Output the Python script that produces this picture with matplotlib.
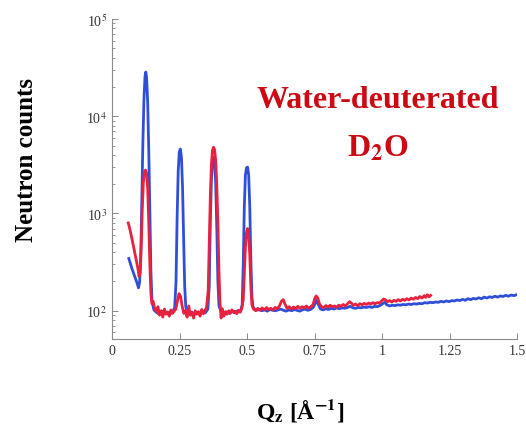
import matplotlib
matplotlib.use("Agg")
from matplotlib import pyplot as plt
from matplotlib.ticker import FixedLocator, LogLocator, NullFormatter, NullLocator

plt.rcParams['font.family'] = ['Liberation Serif', 'DejaVu Serif']
plt.rcParams['mathtext.fontset'] = 'stix'

# water (blue) scan
blue_q = [0.062, 0.068, 0.074, 0.080, 0.086, 0.092, 0.098, 0.102, 0.106, 0.110,
          0.114, 0.118, 0.122, 0.125, 0.128, 0.132, 0.136, 0.140, 0.144, 0.148,
          0.155, 0.165, 0.175, 0.185, 0.195, 0.205, 0.215, 0.225, 0.232,
          0.237, 0.241, 0.245, 0.249, 0.253, 0.257, 0.261, 0.265, 0.269, 0.273,
          0.278, 0.285, 0.295, 0.305, 0.315, 0.325, 0.335, 0.345, 0.355,
          0.360, 0.364, 0.368, 0.372, 0.376, 0.380, 0.384, 0.388, 0.392, 0.396,
          0.405, 0.415, 0.425, 0.435, 0.445, 0.455, 0.465, 0.475, 0.482,
          0.486, 0.490, 0.494, 0.498, 0.502, 0.506, 0.510, 0.514, 0.518, 0.522,
          0.528, 0.535, 0.545, 0.555, 0.565, 0.575, 0.585, 0.595, 0.605, 0.615,
          0.625, 0.635, 0.645, 0.655, 0.665, 0.675, 0.685, 0.695, 0.705, 0.715,
          0.725, 0.735, 0.745, 0.752, 0.758, 0.764, 0.772, 0.782, 0.792, 0.802,
          0.812, 0.822, 0.832, 0.842, 0.852, 0.862, 0.872, 0.882, 0.892, 0.902,
          0.912, 0.922, 0.932, 0.942, 0.952, 0.962, 0.972, 0.982, 0.992, 1.002,
          1.010, 1.018, 1.028, 1.038, 1.048, 1.058, 1.068, 1.078, 1.088, 1.098,
          1.108, 1.118, 1.128, 1.138, 1.148, 1.158, 1.168, 1.178, 1.188, 1.198,
          1.208, 1.218, 1.228, 1.238, 1.248, 1.258, 1.268, 1.278, 1.288, 1.298,
          1.308, 1.318, 1.328, 1.338, 1.348, 1.358, 1.368, 1.378, 1.388, 1.398,
          1.408, 1.418, 1.428, 1.438, 1.448, 1.458, 1.468, 1.478, 1.488, 1.498]
blue_counts = [345, 305, 270, 242, 218, 195, 172, 195, 320, 1200,
               5000, 14500, 25500, 28500, 25000, 14000, 4500, 1000, 250, 125,
               102, 96, 92, 99, 94, 97, 93, 98, 108,
               200, 900, 2700, 4300, 4600, 3800, 1900, 600, 180, 110,
               98, 94, 97, 92, 96, 93, 98, 95, 104,
               180, 800, 2200, 3400, 3800, 3400, 2000, 700, 200, 112,
               96, 92, 97, 94, 99, 95, 100, 97, 115,
               300, 1200, 2500, 2950, 3000, 2500, 1200, 350, 140, 110,
               104, 101, 103, 100, 102, 99, 103, 101, 100, 102,
               104, 101, 99, 102, 100, 103, 101, 99, 102, 104,
               101, 103, 108, 118, 128, 116, 104, 102, 105, 103,
               106, 104, 107, 105, 107, 106, 108, 111, 107, 106,
               108, 107, 109, 108, 110, 108, 111, 110, 113, 118,
               122, 115, 112, 114, 113, 115, 114, 116, 115, 117,
               116, 118, 117, 119, 118, 121, 120, 122, 121, 123,
               122, 125, 123, 126, 124, 127, 126, 129, 127, 131,
               128, 133, 130, 134, 132, 136, 133, 138, 135, 139,
               137, 141, 138, 142, 140, 144, 141, 145, 143, 146]

# deuterated (red) scan
red_q = [0.060, 0.066, 0.072, 0.078, 0.084, 0.090, 0.095, 0.100, 0.104, 0.108,
         0.112, 0.116, 0.120, 0.124, 0.128, 0.132, 0.136, 0.140, 0.144, 0.148,
         0.152, 0.158, 0.164, 0.170, 0.176, 0.182, 0.188, 0.194, 0.200, 0.206,
         0.212, 0.218, 0.224, 0.230, 0.236, 0.242, 0.248, 0.254, 0.260, 0.266,
         0.272, 0.278, 0.284, 0.290, 0.296, 0.302, 0.308, 0.314, 0.320, 0.326,
         0.332, 0.338, 0.344, 0.350, 0.356, 0.360, 0.364, 0.368, 0.372, 0.376,
         0.380, 0.384, 0.388, 0.392, 0.396, 0.400, 0.404, 0.408, 0.414, 0.420,
         0.426, 0.432, 0.438, 0.444, 0.450, 0.456, 0.462, 0.468, 0.474, 0.480,
         0.486, 0.490, 0.494, 0.498, 0.502, 0.506, 0.510, 0.514, 0.518, 0.524,
         0.532, 0.540, 0.548, 0.556, 0.564, 0.572, 0.580, 0.588, 0.596, 0.604,
         0.612, 0.620, 0.628, 0.634, 0.640, 0.648, 0.656, 0.664, 0.672, 0.680,
         0.688, 0.696, 0.704, 0.712, 0.720, 0.728, 0.736, 0.744, 0.750, 0.756,
         0.762, 0.768, 0.776, 0.784, 0.792, 0.800, 0.808, 0.816, 0.824, 0.832,
         0.840, 0.848, 0.856, 0.864, 0.872, 0.880, 0.886, 0.894, 0.902, 0.910,
         0.918, 0.926, 0.934, 0.942, 0.950, 0.958, 0.966, 0.974, 0.982, 0.990,
         0.998, 1.006, 1.012, 1.020, 1.028, 1.036, 1.044, 1.052, 1.060, 1.068,
         1.076, 1.084, 1.092, 1.100, 1.108, 1.116, 1.124, 1.132, 1.140, 1.148,
         1.156, 1.162, 1.168, 1.174, 1.180]
red_counts = [800, 690, 580, 480, 400, 330, 280, 225, 250, 450,
              1100, 2100, 2650, 2800, 2600, 1800, 800, 300, 150, 118,
              125, 105, 98, 110, 90, 100, 86, 104, 92, 97,
              88, 102, 94, 99, 104, 125, 150, 140, 110, 94,
              100, 86, 112, 90, 96, 84, 100, 92, 98, 88,
              103, 93, 100, 108, 160, 500, 1500, 3200, 4500, 4800,
              4500, 3500, 1900, 800, 250, 120, 84, 105, 88, 98,
              92, 100, 94, 102, 96, 99, 93, 101, 97, 104,
              130, 250, 450, 640, 700, 600, 380, 180, 115, 104,
              100, 106, 101, 107, 102, 108, 103, 106, 102, 108,
              105, 112, 126, 130, 118, 106, 110, 104, 109, 105,
              111, 106, 110, 107, 112, 106, 110, 115, 132, 142,
              135, 118, 110, 108, 113, 109, 114, 110, 112, 109,
              114, 111, 116, 112, 118, 124, 120, 114, 117, 113,
              118, 115, 119, 116, 120, 117, 121, 118, 121, 120,
              126, 132, 130, 124, 127, 123, 128, 125, 130, 126,
              131, 128, 133, 129, 135, 131, 137, 133, 140, 135,
              143, 137, 146, 139, 144]

x_ticks = [0, 0.25, 0.5, 0.75, 1, 1.25, 1.5]
x_tick_labels = ['0', '0.25', '0.5', '0.75', '1', '1.25', '1.5']
y_ticks = [1e2, 1e3, 1e4, 1e5]
y_tick_labels = ['10$^{2}$', '10$^{3}$', '10$^{4}$', '10$^{5}$']

fig = plt.figure(figsize=(5.26, 4.35), dpi=100)
ax = fig.add_axes([0.213, 0.218, 0.770, 0.736])

ax.plot(blue_q, blue_counts, color='#2f4fd8', lw=2.0)
ax.plot(red_q, red_counts, color='#e8213f', lw=2.0)

ax.set_yscale('log')
ax.set_xlim(0, 1.5)
ax.set_ylim(51, 1e5)

ax.xaxis.set_major_locator(FixedLocator(x_ticks))
ax.set_xticklabels(x_tick_labels)
ax.xaxis.set_minor_locator(NullLocator())
ax.yaxis.set_major_locator(FixedLocator(y_ticks))
ax.set_yticklabels(y_tick_labels)
ax.yaxis.set_minor_locator(LogLocator(base=10, subs=range(2, 10)))
ax.yaxis.set_minor_formatter(NullFormatter())

for side in ['top', 'right']:
    ax.spines[side].set_visible(False)
for side in ['left', 'bottom']:
    ax.spines[side].set_color('#8a8a8a')
    ax.spines[side].set_linewidth(0.8)

ax.tick_params(which='major', direction='in', length=4, width=0.7, color='#8a8a8a',
               labelsize=10, labelcolor='#333333')
ax.tick_params(which='minor', direction='in', length=2, width=0.6, color='#8a8a8a')

fig.text(0.051, 0.632, 'Neutron counts', rotation=90, ha='center', va='center',
         fontsize=18, fontweight='bold')
fig.text(0.57, 0.057, r'Q$_\mathbf{z}$ [Å$^\mathbf{-1}$]', ha='center', va='center',
         fontsize=17, fontweight='bold')
fig.text(0.719, 0.77, 'Water-deuterated', ha='center', va='center',
         fontsize=23, fontweight='bold', color='#cc0a14')
fig.text(0.719, 0.657, r'D$_\mathbf{2}$O', ha='center', va='center',
         fontsize=23, fontweight='bold', color='#cc0a14')

fig.savefig('out.png', dpi=100)
